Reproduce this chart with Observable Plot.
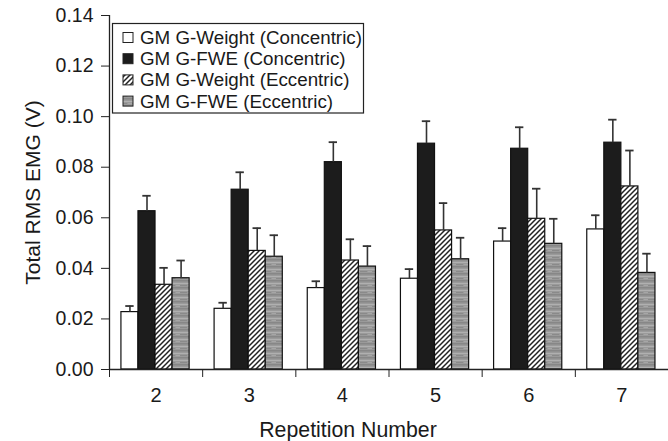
<!DOCTYPE html>
<html>
<head>
<meta charset="utf-8">
<script src="https://cdn.jsdelivr.net/npm/d3@7"></script>
<script src="https://cdn.jsdelivr.net/npm/@observablehq/plot@0.6"></script>
<style>
  html, body { margin: 0; padding: 0; background: #fff; }
  #chart { width: 668px; height: 441px; }
</style>
</head>
<body>
<div id="chart"></div>
<script>
// ---- Data ----
const reps = [2, 3, 4, 5, 6, 7];
const series = [
  "GM G-Weight (Concentric)",
  "GM G-FWE (Concentric)",
  "GM G-Weight (Eccentric)",
  "GM G-FWE (Eccentric)"
];
const weightCon    = [0.0227, 0.0240, 0.0322, 0.0359, 0.0506, 0.0554];
const weightConErr = [0.0024, 0.0024, 0.0027, 0.0038, 0.0053, 0.0056];
const fweCon       = [0.0626, 0.0711, 0.0820, 0.0893, 0.0873, 0.0897];
const fweConErr    = [0.0061, 0.0069, 0.0079, 0.0089, 0.0085, 0.0091];
const weightEcc    = [0.0335, 0.0469, 0.0431, 0.0550, 0.0596, 0.0724];
const weightEccErr = [0.0067, 0.0090, 0.0084, 0.0108, 0.0119, 0.0142];
const fweEcc       = [0.0361, 0.0446, 0.0407, 0.0436, 0.0497, 0.0382];
const fweEccErr    = [0.0070, 0.0085, 0.0081, 0.0085, 0.0099, 0.0076];
const yTicks = [0, 0.02, 0.04, 0.06, 0.08, 0.10, 0.12, 0.14];
const xLabel = "Repetition Number";
const yLabel = "Total RMS EMG (V)";

// ---- Build table ----
const values = [weightCon, fweCon, weightEcc, fweEcc];
const errors = [weightConErr, fweConErr, weightEccErr, fweEccErr];
const data = [];
series.forEach((s, si) => {
  reps.forEach((r, ri) => {
    data.push({rep: r, series: s, si, value: values[si][ri], err: errors[si][ri]});
  });
});

const fills = ["#ffffff", "#1c1c1c", "url(#hatch)", "url(#grayStripe)"];
const START = -0.372, BW = 0.183;
const x1 = d => d.rep + START + d.si * BW;
const x2 = d => d.rep + START + (d.si + 1) * BW;
const xc = d => d.rep + START + (d.si + 0.5) * BW;
const CAP = 0.045;

const font = "'Liberation Sans', Arial, Helvetica, sans-serif";
const boundaries = reps.map(r => r - 0.5);

const plot = Plot.plot({
  width: 668,
  height: 441,
  marginLeft: 109,
  marginRight: 0,
  marginTop: 15,
  marginBottom: 72,
  style: {fontFamily: font, fontSize: "20px", color: "#1a1a1a", background: "#fff"},
  x: {domain: [1.5, 7.5]},
  y: {domain: [0, 0.14]},
  marks: [
    ...series.map((s, si) =>
      Plot.rectY(data.filter(d => d.si === si), {
        x1, x2, y1: 0, y2: "value",
        fill: fills[si], stroke: "#111", strokeWidth: 1.2
      })
    ),
    Plot.ruleX(data, {x: xc, y1: "value", y2: d => d.value + d.err, stroke: "#333", strokeWidth: 1.6}),
    Plot.ruleY(data, {y: d => d.value + d.err, x1: d => xc(d) - CAP, x2: d => xc(d) + CAP, stroke: "#333", strokeWidth: 1.8}),
    Plot.ruleY([0], {stroke: "#222", strokeWidth: 1.3}),
    Plot.ruleX([1.5], {y1: 0, y2: 0.14, stroke: "#222", strokeWidth: 1.3}),
    Plot.axisY({ticks: yTicks, tickFormat: d3.format(".2f"), tickSize: 8, tickPadding: 8, fontSize: 19.5, label: null, stroke: "#222"}),
    Plot.axisX({ticks: reps, tickFormat: d => String(d), tickSize: 0, tickPadding: 18, fontSize: 20, label: null}),
    Plot.axisX({ticks: boundaries, tickFormat: () => "", tickSize: 8, label: null, stroke: "#222"}),
    Plot.text([xLabel], {text: d => d, frameAnchor: "bottom", dy: 67, dx: -41, fontSize: 21.3, lineAnchor: "bottom", fill: "#1a1a1a"}),
    Plot.text([yLabel], {text: d => d, frameAnchor: "left", dx: -76, rotate: -90, textAnchor: "middle", fontSize: 21, fill: "#1a1a1a"})
  ]
});

// Patterns
const svg = d3.select(plot);
const defs = svg.insert("defs", ":first-child");
const hatch = defs.append("pattern").attr("id", "hatch").attr("patternUnits", "userSpaceOnUse")
  .attr("width", 5).attr("height", 5);
hatch.append("rect").attr("width", 5).attr("height", 5).attr("fill", "#fff");
hatch.append("path").attr("d", "M-1,1 L1,-1 M0,5 L5,0 M4,6 L6,4").attr("stroke", "#222").attr("stroke-width", 1.5);

const gs = defs.append("pattern").attr("id", "grayStripe").attr("patternUnits", "userSpaceOnUse")
  .attr("width", 12).attr("height", 7);
gs.append("rect").attr("width", 12).attr("height", 7).attr("fill", "#9a9a9a");
gs.append("rect").attr("y", 0).attr("width", 12).attr("height", 1.5).attr("fill", "#878787");
gs.append("rect").attr("y", 3).attr("width", 12).attr("height", 1).attr("fill", "#b0b0b0");
gs.append("rect").attr("y", 5).attr("width", 7).attr("height", 1).attr("fill", "#8a8a8a");
gs.append("rect").attr("x", 8).attr("y", 5).attr("width", 4).attr("height", 1).attr("fill", "#a6a6a6");

// Legend
const lg = svg.append("g").attr("font-family", font).attr("font-size", 18.8).attr("text-anchor", "start");
lg.append("rect").attr("x", 112.5).attr("y", 23.5).attr("width", 251).attr("height", 89.5)
  .attr("fill", "#fff").attr("stroke", "#222").attr("stroke-width", 1.2);
series.forEach((s, i) => {
  const cy = 37.5 + i * 21.2;
  lg.append("rect").attr("x", 123).attr("y", cy - 5).attr("width", 10).attr("height", 10)
    .attr("fill", fills[i]).attr("stroke", "#222").attr("stroke-width", 1);
  lg.append("text").attr("x", 140).attr("y", cy).attr("dy", "0.35em")
    .attr("text-anchor", "start").attr("fill", "#1a1a1a").text(s);
});

document.getElementById("chart").appendChild(plot);
</script>
</body>
</html>
